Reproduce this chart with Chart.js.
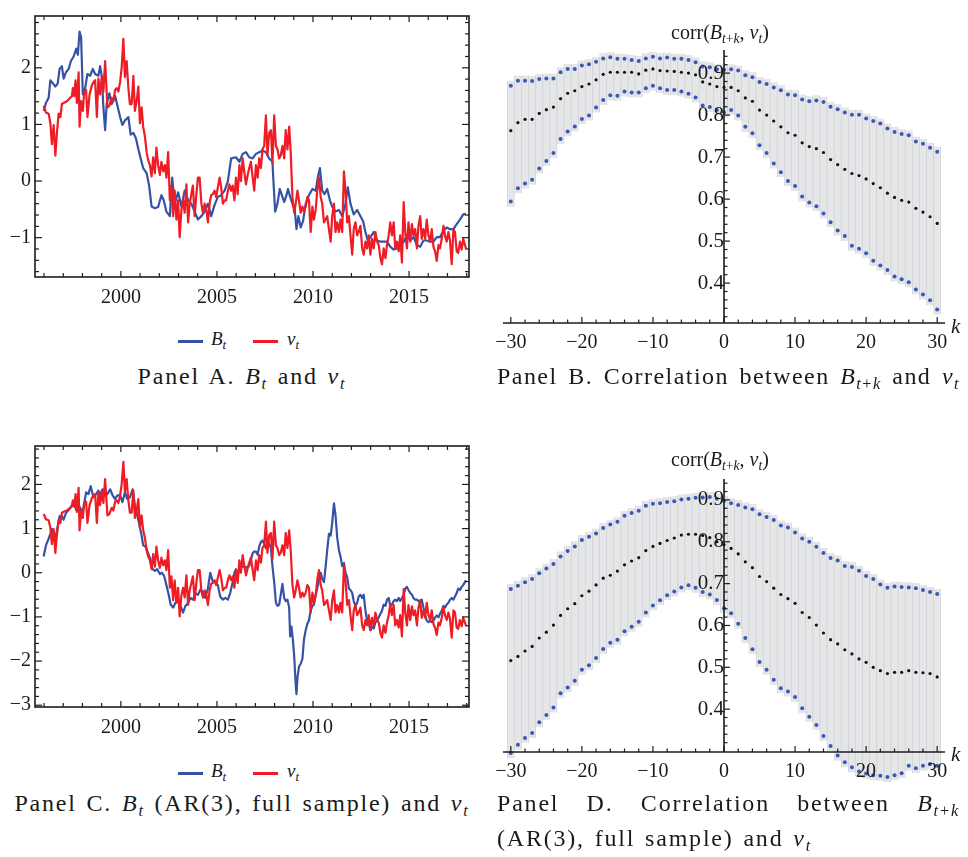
<!DOCTYPE html>
<html>
<head>
<meta charset="utf-8">
<script src="https://cdn.jsdelivr.net/npm/chart.js@4/dist/chart.umd.min.js"></script>
<style>
  body { margin: 0; width: 968px; height: 857px; background: #fff; position: relative; overflow: hidden;
         font-family: 'Liberation Serif', serif; color: #1a1a1a; }
  canvas { position: absolute; display: block; }
  .sw { position: absolute; width: 25px; height: 3px; }
  .lg { position: absolute; font-size: 19px; font-style: italic; white-space: nowrap; }
  .lg sub, .cap sub, .ax sub { font-size: 0.68em; vertical-align: -0.3em; line-height: 0; }
  .cap { position: absolute; font-size: 24px; line-height: 28px; white-space: nowrap; letter-spacing: 1.8px; word-spacing: 2px; }
  .ax { position: absolute; font-size: 20px; white-space: nowrap; }
</style>
</head>
<body>
<canvas id="panelA" width="484" height="320" style="left:0;top:0"></canvas>
<canvas id="panelB" width="484" height="370" style="left:484px;top:0"></canvas>
<canvas id="panelC" width="484" height="320" style="left:0;top:430px"></canvas>
<canvas id="panelD" width="484" height="370" style="left:484px;top:430px"></canvas>

<!-- legends -->
<div class="sw" style="left:178px;top:340px;background:#3652a5"></div>
<div class="lg" style="left:211px;top:328px">B<sub>t</sub></div>
<div class="sw" style="left:253px;top:340px;background:#ee1c25"></div>
<div class="lg" style="left:287px;top:328px">v<sub>t</sub></div>

<div class="sw" style="left:178px;top:772px;background:#3652a5"></div>
<div class="lg" style="left:211px;top:760px">B<sub>t</sub></div>
<div class="sw" style="left:253px;top:772px;background:#ee1c25"></div>
<div class="lg" style="left:287px;top:760px">v<sub>t</sub></div>

<!-- axis labels of the correlation panels -->
<div class="ax" style="left:671px;top:21px">corr(<i>B</i><sub><i>t</i>+<i>k</i></sub>, <i>v</i><sub><i>t</i></sub>)</div>
<div class="ax" style="left:951px;top:314px;font-size:21px"><i>k</i></div>
<div class="ax" style="left:671px;top:448px">corr(<i>B</i><sub><i>t</i>+<i>k</i></sub>, <i>v</i><sub><i>t</i></sub>)</div>
<div class="ax" style="left:951px;top:742px;font-size:21px"><i>k</i></div>

<!-- captions -->
<div class="cap" style="left:0;top:362px;width:484px;text-align:center">Panel A. <i>B</i><sub><i>t</i></sub> and <i>v</i><sub><i>t</i></sub></div>
<div class="cap" style="left:497px;top:362px;width:463px;letter-spacing:1.45px;text-align:justify;text-align-last:justify">Panel B. Correlation between <i>B</i><sub><i>t</i>+<i>k</i></sub> and <i>v</i><sub><i>t</i></sub></div>
<div class="cap" style="left:0;top:789px;width:484px;text-align:center">Panel C. <i>B</i><sub><i>t</i></sub> (AR(3), full sample) and <i>v</i><sub><i>t</i></sub></div>
<div class="cap" style="left:497px;top:789px;width:463px;text-align:justify;text-align-last:justify">Panel D. Correlation between <i>B</i><sub><i>t</i>+<i>k</i></sub></div>
<div class="cap" style="left:497px;top:824px">(AR(3), full sample) and <i>v</i><sub><i>t</i></sub></div>

<script>
// v_t (same series in panels A and C)
const vYears = [
  1995.98,1996.10,1996.24,1996.33,1996.41,1996.50,1996.59,1996.67,1996.76,1996.85,
  1996.93,1997.02,1997.19,1997.28,1997.36,1997.45,1997.50,1997.57,1997.64,1997.71,
  1997.80,1997.85,1997.93,1998.02,1998.09,1998.19,1998.26,1998.37,1998.49,1998.57,
  1998.66,1998.75,1998.83,1998.92,1999.01,1999.09,1999.18,1999.30,1999.40,1999.52,
  1999.61,1999.70,1999.78,1999.87,1999.96,2000.04,2000.13,2000.21,2000.30,2000.39,
  2000.47,2000.56,2000.65,2000.73,2000.82,2000.91,2000.99,2001.08,2001.16,2001.25,
  2001.34,2001.42,2001.51,2001.60,2001.68,2001.77,2001.85,2001.94,2002.03,2002.11,
  2002.20,2002.29,2002.37,2002.46,2002.55,2002.63,2002.72,2002.80,2002.89,2002.98,
  2003.06,2003.15,2003.24,2003.32,2003.41,2003.50,2003.58,2003.67,2003.75,2003.84,
  2003.93,2004.01,2004.10,2004.19,2004.27,2004.36,2004.45,2004.53,2004.62,2004.70,
  2004.79,2004.88,2004.96,2005.05,2005.14,2005.22,2005.31,2005.40,2005.48,2005.57,
  2005.65,2005.74,2005.82,2005.91,2005.99,2006.08,2006.17,2006.25,2006.34,2006.42,
  2006.51,2006.60,2006.68,2006.77,2006.86,2006.94,2007.03,2007.12,2007.20,2007.29,
  2007.37,2007.46,2007.55,2007.63,2007.72,2007.81,2007.89,2007.98,2008.07,2008.15,
  2008.24,2008.32,2008.41,2008.50,2008.58,2008.67,2008.76,2008.84,2008.93,2009.02,
  2009.10,2009.19,2009.27,2009.36,2009.45,2009.53,2009.62,2009.71,2009.79,2009.88,
  2009.97,2010.05,2010.14,2010.22,2010.31,2010.40,2010.48,2010.57,2010.66,2010.74,
  2010.83,2010.92,2011.00,2011.09,2011.17,2011.26,2011.35,2011.43,2011.52,2011.61,
  2011.69,2011.78,2011.87,2011.95,2012.04,2012.12,2012.21,2012.30,2012.38,2012.47,
  2012.56,2012.64,2012.73,2012.82,2012.90,2012.99,2013.07,2013.16,2013.25,2013.33,
  2013.42,2013.51,2013.59,2013.68,2013.77,2013.85,2013.94,2014.02,2014.11,2014.20,
  2014.28,2014.37,2014.46,2014.54,2014.63,2014.72,2014.80,2014.89,2014.97,2015.06,
  2015.15,2015.23,2015.32,2015.41,2015.49,2015.58,2015.66,2015.75,2015.84,2015.92,
  2016.01,2016.10,2016.18,2016.27,2016.36,2016.44,2016.53,2016.61,2016.70,2016.79,
  2016.87,2016.96,2017.05,2017.13,2017.22,2017.31,2017.39,2017.48,2017.56,2017.65,
  2017.74,2017.82,2017.96
];
const vValues = [
  1.33,1.21,1.19,1.02,0.65,0.99,0.45,0.85,1.19,1.13,
  1.36,1.38,1.41,1.44,1.47,1.50,1.64,1.50,1.78,1.38,
  1.92,0.96,1.41,1.24,1.58,1.61,1.13,1.53,1.69,1.75,
  1.78,1.13,1.81,1.53,1.86,1.58,2.12,1.30,1.33,1.47,
  1.41,1.61,1.64,1.58,1.75,2.00,2.51,1.84,2.12,1.64,
  1.36,1.36,1.86,1.24,1.41,1.67,1.02,1.30,0.96,0.79,
  0.51,0.37,0.28,0.08,0.42,0.14,0.59,0.28,0.11,0.34,
  0.17,0.28,0.06,0.51,-0.34,-0.08,-0.62,-0.17,-0.68,-0.34,
  -0.99,-0.51,-0.34,-0.56,-0.06,-0.73,-0.40,-0.23,-0.08,-0.62,
  -0.23,0.06,0.06,-0.40,-0.56,-0.40,-0.51,-0.73,-0.40,-0.25,
  -0.23,-0.17,-0.28,-0.11,0.06,-0.11,-0.40,-0.34,-0.34,-0.17,
  -0.06,-0.17,-0.08,-0.34,0.06,-0.23,0.28,0.00,0.40,0.17,
  -0.06,0.11,0.23,0.34,0.06,-0.17,0.28,0.06,0.40,0.23,
  0.56,0.62,1.16,0.45,0.85,0.90,0.31,1.16,0.62,0.56,
  0.40,0.45,0.62,0.40,0.90,0.56,0.96,0.51,-0.28,-0.56,
  -0.40,-0.17,-0.34,-0.56,-0.45,-0.54,-0.45,-0.28,-0.34,-0.90,
  -0.45,-0.68,-0.51,-0.17,0.06,-0.28,-0.40,-0.73,-0.68,-0.62,
  -0.85,-1.07,-0.62,-0.40,-0.90,-0.73,-0.90,-0.68,-0.90,0.17,
  -0.17,-0.73,-0.62,-0.96,-1.30,-0.85,-0.73,-0.96,-0.90,-0.79,
  -1.19,-1.30,-1.07,-1.19,-0.96,-1.30,-1.02,-1.19,-0.90,-1.07,
  -1.13,-1.36,-1.47,-1.19,-1.36,-1.13,-0.96,-0.73,-0.96,-0.73,
  -1.19,-1.07,-1.24,-0.96,-1.44,-0.37,-0.90,-1.19,-0.73,-1.07,
  -0.76,-0.96,-0.85,-1.19,-0.79,-0.62,-1.02,-0.85,-1.02,-0.68,
  -0.96,-1.07,-0.85,-1.16,-1.25,-1.41,-1.13,-1.19,-1.02,-0.79,
  -0.96,-1.07,-0.90,-1.05,-1.47,-0.85,-0.90,-1.24,-1.27,-1.07,
  -1.21,-1.02,-1.19
];

// B_t, panel A
const bYearsA = [
  1995.98,1996.10,1996.24,1996.33,1996.47,1996.59,1996.71,1996.81,1996.93,1997.02,
  1997.14,1997.28,1997.40,1997.54,1997.68,1997.76,1997.85,1997.93,1998.02,1998.14,
  1998.26,1998.40,1998.54,1998.66,1998.83,1998.92,1999.01,1999.09,1999.18,1999.26,
  1999.40,1999.52,1999.70,1999.82,1999.96,2000.08,2000.21,2000.39,2000.51,2000.65,
  2000.78,2000.91,2001.03,2001.16,2001.34,2001.47,2001.60,2001.77,2001.94,2002.11,
  2002.23,2002.37,2002.55,2002.67,2002.80,2002.98,2003.15,2003.32,2003.50,2003.67,
  2003.84,2004.01,2004.19,2004.36,2004.53,2004.70,2004.88,2005.05,2005.22,2005.40,
  2005.57,2005.74,2005.99,2006.17,2006.34,2006.51,2006.68,2006.86,2007.03,2007.20,
  2007.37,2007.55,2007.72,2007.89,2007.94,2008.03,2008.15,2008.27,2008.41,2008.50,
  2008.62,2008.70,2008.81,2008.93,2009.05,2009.14,2009.24,2009.36,2009.48,2009.62,
  2009.79,2009.97,2010.14,2010.26,2010.36,2010.48,2010.60,2010.74,2010.88,2011.00,
  2011.17,2011.35,2011.52,2011.69,2011.81,2011.95,2012.12,2012.30,2012.47,2012.61,
  2012.73,2012.85,2012.99,2013.16,2013.33,2013.51,2013.68,2013.85,2014.02,2014.20,
  2014.37,2014.54,2014.72,2014.89,2015.06,2015.23,2015.41,2015.58,2015.75,2015.92,
  2016.10,2016.27,2016.44,2016.61,2016.79,2016.96,2017.13,2017.31,2017.48,2017.65,
  2017.82,2017.96
];
const bValuesA = [
  1.24,1.38,1.47,1.78,1.72,1.67,1.72,1.98,2.03,1.81,
  1.92,1.98,2.12,2.20,2.34,2.23,2.64,2.54,1.53,1.64,
  1.89,1.86,1.98,1.89,1.86,2.03,1.84,1.30,0.90,1.36,
  1.55,1.36,1.50,1.33,1.13,0.99,1.07,1.13,0.82,0.85,
  0.76,0.56,0.40,0.23,0.14,-0.08,-0.45,-0.48,-0.46,-0.25,
  -0.34,-0.54,-0.62,0.06,-0.40,-0.20,-0.45,-0.17,-0.34,-0.40,
  -0.54,-0.68,-0.62,-0.54,-0.40,-0.62,-0.42,-0.28,-0.25,-0.17,
  0.00,0.40,0.42,0.34,0.48,0.51,0.42,0.40,0.48,0.51,
  0.54,0.51,0.40,0.34,0.00,-0.54,-0.40,-0.14,-0.28,-0.37,
  -0.25,-0.14,-0.28,-0.40,-0.51,-0.85,-0.62,-0.82,-0.71,-0.40,
  -0.25,-0.14,-0.17,0.08,0.23,-0.17,-0.23,-0.14,-0.34,-0.45,
  -0.54,-0.51,-0.62,-0.40,-0.11,-0.40,-0.59,-0.51,-0.62,-0.71,
  -0.90,-1.05,-0.99,-0.90,-1.05,-1.07,-1.07,-1.07,-1.16,-1.21,
  -1.19,-1.16,-1.07,-0.96,-1.05,-0.99,-1.13,-1.16,-1.05,-1.05,
  -1.07,-1.07,-0.99,-0.99,-0.88,-0.82,-0.85,-0.85,-0.76,-0.68,
  -0.59,-0.58
];

// B_t (AR(3), full sample), panel C
const bYearsC = [
  1995.98,1996.10,1996.24,1996.33,1996.41,1996.59,1996.67,1996.81,1996.93,1997.02,
  1997.14,1997.28,1997.40,1997.54,1997.68,1997.80,1997.93,1998.05,1998.19,1998.31,
  1998.43,1998.57,1998.71,1998.83,1998.92,1999.04,1999.18,1999.30,1999.44,1999.57,
  1999.70,1999.82,1999.96,2000.08,2000.21,2000.33,2000.47,2000.61,2000.73,2000.85,
  2000.96,2001.08,2001.16,2001.29,2001.42,2001.54,2001.65,2001.77,2001.89,2002.03,
  2002.14,2002.25,2002.37,2002.49,2002.59,2002.72,2002.84,2002.98,2003.10,2003.24,
  2003.36,2003.50,2003.62,2003.75,2003.88,2004.01,2004.13,2004.27,2004.39,2004.53,
  2004.65,2004.79,2004.91,2005.05,2005.17,2005.31,2005.43,2005.57,2005.69,2005.82,
  2005.91,2005.99,2006.08,2006.17,2006.25,2006.34,2006.51,2006.68,2006.77,2006.86,
  2006.94,2007.03,2007.12,2007.20,2007.29,2007.37,2007.46,2007.55,2007.63,2007.72,
  2007.81,2007.89,2007.98,2008.07,2008.15,2008.24,2008.32,2008.41,2008.50,2008.58,
  2008.67,2008.76,2008.81,2008.88,2008.95,2009.02,2009.10,2009.14,2009.19,2009.27,
  2009.36,2009.45,2009.53,2009.62,2009.71,2009.79,2009.88,2009.97,2010.05,2010.14,
  2010.22,2010.31,2010.40,2010.48,2010.57,2010.66,2010.74,2010.83,2010.92,2011.00,
  2011.09,2011.17,2011.26,2011.35,2011.43,2011.52,2011.61,2011.69,2011.78,2011.87,
  2011.95,2012.04,2012.12,2012.21,2012.30,2012.38,2012.47,2012.56,2012.64,2012.73,
  2012.82,2012.90,2012.99,2013.07,2013.16,2013.25,2013.33,2013.42,2013.51,2013.59,
  2013.68,2013.77,2013.85,2013.94,2014.02,2014.11,2014.20,2014.28,2014.37,2014.46,
  2014.54,2014.63,2014.72,2014.80,2014.89,2014.97,2015.06,2015.15,2015.23,2015.32,
  2015.41,2015.49,2015.58,2015.66,2015.75,2015.84,2015.92,2016.01,2016.10,2016.18,
  2016.27,2016.36,2016.44,2016.53,2016.61,2016.70,2016.79,2016.87,2016.96,2017.05,
  2017.13,2017.22,2017.31,2017.39,2017.48,2017.56,2017.65,2017.74,2017.82,2017.96
];
const bValuesC = [
  0.37,0.62,0.77,0.88,0.99,0.80,0.95,1.28,1.28,1.20,
  1.35,1.42,1.49,1.60,1.42,1.53,1.42,1.46,1.82,1.78,
  1.96,1.71,1.78,1.86,1.75,1.89,1.82,1.78,1.89,1.75,
  1.67,1.75,1.75,1.60,1.82,1.67,1.71,1.89,1.53,1.31,
  1.09,0.84,0.62,0.59,0.44,0.30,0.08,0.04,0.08,-0.03,
  0.00,-0.07,-0.28,-0.50,-0.72,-0.79,-0.68,-0.64,-0.75,-0.90,
  -0.75,-0.68,-0.57,-0.61,-0.46,-0.50,-0.39,-0.43,-0.57,-0.36,
  0.00,-0.21,-0.21,-0.28,-0.54,-0.61,-0.57,-0.61,-0.46,-0.21,
  0.00,0.08,-0.03,0.08,0.12,0.15,0.12,0.15,0.30,0.44,
  0.48,0.48,0.41,0.59,0.70,0.73,0.66,0.55,0.70,0.66,
  0.55,0.15,-0.21,-0.68,-0.75,-0.72,-0.50,-0.25,-0.57,-0.64,
  -0.61,-0.79,-1.44,-1.22,-1.51,-1.88,-2.53,-2.75,-2.38,-2.13,
  -2.06,-1.95,-1.51,-1.30,-1.15,-1.08,-0.86,-0.75,-0.72,-0.50,
  -0.36,-0.14,0.00,-0.14,-0.21,0.15,0.51,0.88,0.84,1.13,
  1.57,1.31,0.80,0.51,0.37,0.15,0.22,0.00,-0.10,-0.36,
  -0.39,-0.46,-0.64,-0.75,-0.68,-0.54,-0.50,-0.57,-0.50,-0.86,
  -1.08,-1.15,-1.30,-1.22,-1.26,-1.12,-1.08,-1.01,-0.93,-0.86,
  -0.72,-0.75,-0.61,-0.57,-0.75,-0.72,-0.64,-0.61,-0.64,-0.57,
  -0.64,-0.57,-0.50,-0.36,-0.32,-0.39,-0.46,-0.50,-0.57,-0.61,
  -0.61,-0.64,-0.68,-0.61,-0.79,-0.97,-1.08,-1.12,-1.08,-1.12,
  -1.08,-1.01,-0.97,-1.01,-0.93,-0.86,-0.75,-0.79,-0.72,-0.68,
  -0.61,-0.57,-0.61,-0.54,-0.46,-0.36,-0.39,-0.32,-0.28,-0.17
];

// lags k = -30 ... 30
const lags = Array.from({ length: 61 }, (_, i) => i - 30);

// Panel B: corr(B_{t+k}, v_t) and its band
const corrUpperB = [
  0.870,0.882,0.882,0.881,0.886,0.887,0.887,0.902,0.910,0.910,
  0.918,0.921,0.927,0.935,0.938,0.934,0.934,0.931,0.929,0.935,
  0.939,0.935,0.937,0.934,0.934,0.931,0.926,0.916,0.914,0.909,
  0.908,
  0.909,0.906,0.895,0.890,0.879,0.874,0.866,0.859,0.849,0.847,
  0.837,0.833,0.835,0.831,0.820,0.814,0.806,0.801,0.801,0.792,
  0.786,0.780,0.768,0.760,0.755,0.752,0.737,0.732,0.722,0.713
];
const corrMidB = [
  0.763,0.782,0.790,0.790,0.804,0.813,0.819,0.839,0.852,0.858,
  0.868,0.874,0.884,0.897,0.902,0.902,0.902,0.902,0.898,0.907,
  0.910,0.906,0.905,0.904,0.902,0.900,0.896,0.879,0.874,0.868,
  0.866,
  0.866,0.858,0.841,0.833,0.812,0.800,0.786,0.772,0.758,0.752,
  0.734,0.725,0.720,0.711,0.694,0.682,0.671,0.661,0.656,0.648,
  0.637,0.627,0.614,0.604,0.597,0.593,0.578,0.569,0.558,0.542
];
const corrLowerB = [
  0.594,0.626,0.637,0.646,0.673,0.691,0.710,0.743,0.761,0.773,
  0.791,0.799,0.818,0.836,0.847,0.846,0.856,0.854,0.854,0.864,
  0.870,0.864,0.860,0.860,0.856,0.851,0.842,0.823,0.819,0.812,
  0.806,
  0.812,0.799,0.772,0.757,0.728,0.710,0.685,0.664,0.643,0.631,
  0.606,0.592,0.583,0.566,0.545,0.525,0.512,0.489,0.482,0.471,
  0.453,0.442,0.431,0.416,0.409,0.402,0.385,0.373,0.359,0.337
];

// Panel D: same with B_t from AR(3), full sample
const corrUpperD = [
  0.687,0.695,0.703,0.711,0.725,0.736,0.747,0.765,0.778,0.789,
  0.804,0.812,0.820,0.833,0.841,0.848,0.862,0.869,0.874,0.886,
  0.891,0.892,0.895,0.897,0.901,0.903,0.905,0.906,0.907,0.903,
  0.898,
  0.892,0.888,0.882,0.878,0.866,0.859,0.852,0.839,0.834,0.822,
  0.808,0.800,0.788,0.773,0.761,0.755,0.742,0.740,0.731,0.718,
  0.711,0.698,0.690,0.693,0.692,0.691,0.689,0.685,0.680,0.675
];
const corrMidD = [
  0.516,0.526,0.539,0.550,0.570,0.584,0.601,0.624,0.640,0.652,
  0.671,0.682,0.697,0.713,0.720,0.730,0.745,0.754,0.762,0.779,
  0.789,0.796,0.803,0.809,0.816,0.818,0.818,0.815,0.810,0.800,
  0.793,
  0.784,0.771,0.752,0.738,0.717,0.705,0.689,0.674,0.664,0.653,
  0.631,0.619,0.601,0.582,0.566,0.556,0.542,0.532,0.520,0.512,
  0.500,0.492,0.485,0.488,0.488,0.492,0.488,0.487,0.485,0.477
];
const corrLowerD = [
  0.295,0.315,0.331,0.343,0.369,0.386,0.404,0.438,0.452,0.468,
  0.494,0.505,0.522,0.544,0.559,0.566,0.586,0.597,0.609,0.631,
  0.648,0.660,0.672,0.681,0.691,0.696,0.690,0.680,0.674,0.661,
  0.641,
  0.629,0.604,0.570,0.543,0.513,0.494,0.470,0.450,0.442,0.429,
  0.402,0.382,0.362,0.336,0.312,0.289,0.273,0.261,0.251,0.246,
  0.242,0.241,0.238,0.242,0.247,0.265,0.259,0.265,0.269,0.265
];

const BLUE = '#3652a5';
const RED = '#ee1c25';
const DOT_BLUE = '#3a58b6';
const FAMILY = "'Liberation Serif', serif";
const FONT = { family: FAMILY, size: 20 };

// tick positions (every year / every 0.2, every 2 lags / every 0.02)
function steps(from, to, step) {
  const out = [];
  for (let v = from; v <= to + 1e-9; v += step) out.push(Math.round(v * 1000) / 1000);
  return out;
}
const yearTicks = steps(1996, 2018, 1);
const lagTicks = steps(-30, 30, 2);

const minus = v => (v < 0 ? '\u2212' : '') + Math.abs(v);
const isMajor = (v, step) => Math.abs(v / step - Math.round(v / step)) < 1e-6;

// Mathematica-like tick marks: frame ticks pointing inward, or axes crossing at k = 0
const tickMarks = {
  id: 'tickMarks',
  afterDraw(chart, args, o) {
    const { ctx, chartArea: a, scales: { x, y } } = chart;
    const seg = (x1, y1, x2, y2) => { ctx.beginPath(); ctx.moveTo(x1, y1); ctx.lineTo(x2, y2); ctx.stroke(); };
    ctx.save();
    ctx.strokeStyle = '#1c1c1c';
    if (o.frame) {
      ctx.lineWidth = 1.6;
      ctx.strokeRect(a.left, a.top, a.right - a.left, a.bottom - a.top);
      ctx.lineWidth = 1.2;
      x.ticks.forEach(t => {
        const p = x.getPixelForValue(t.value);
        const len = isMajor(t.value, o.xMajor) ? 6 : 4;
        seg(p, a.bottom, p, a.bottom - len);
        seg(p, a.top, p, a.top + len);
      });
      y.ticks.forEach(t => {
        const p = y.getPixelForValue(t.value);
        const len = isMajor(t.value, o.yMajor) ? 7 : 4;
        seg(a.left, p, a.left + len, p);
        seg(a.right, p, a.right - len, p);
      });
    } else {
      const x0 = x.getPixelForValue(0);
      const y0 = y.getPixelForValue(o.xAt);
      ctx.lineWidth = 1.6;
      seg(x0, a.top, x0, y0);
      seg(a.left, y0, a.right, y0);
      ctx.lineWidth = 1.2;
      x.ticks.forEach(t => {
        const p = x.getPixelForValue(t.value);
        seg(p, y0, p, y0 - (isMajor(t.value, o.xMajor) ? 6 : 3.5));
      });
      y.ticks.forEach(t => {
        const p = y.getPixelForValue(t.value);
        seg(x0, p, x0 + (isMajor(t.value, o.yMajor) ? 6 : 3.5), p);
      });
    }
    ctx.restore();
  }
};

function seriesChart(id, bYears, bValues, yMin, yMax) {
  const yTicks = steps(Math.ceil(yMin * 5) / 5, yMax, 0.2);
  new Chart(document.getElementById(id), {
    type: 'line',
    data: {
      datasets: [
        { label: 'v', data: vYears.map((x, i) => ({ x, y: vValues[i] })), borderColor: RED, borderWidth: 2.2, order: 0 },
        { label: 'B', data: bYears.map((x, i) => ({ x, y: bValues[i] })), borderColor: BLUE, borderWidth: 2.2, order: 1 }
      ]
    },
    options: {
      responsive: false,
      animation: false,
      layout: { padding: { top: 5, right: 15, left: 0, bottom: 0 } },
      elements: { point: { radius: 0 }, line: { tension: 0, borderJoinStyle: 'round' } },
      plugins: { legend: { display: false }, tooltip: { enabled: false }, tickMarks: { frame: true, xMajor: 5, yMajor: 1 } },
      scales: {
        x: {
          type: 'linear', min: 1995.53, max: 2018.12,
          grid: { display: false, drawTicks: false }, border: { display: false },
          afterBuildTicks: s => { s.ticks = yearTicks.map(value => ({ value })); },
          afterFit: s => { s.height = 43; },
          ticks: { autoSkip: false, maxRotation: 0, padding: 9, color: '#1a1a1a', font: FONT,
                   callback: v => (isMajor(v, 5) ? String(v) : '') }
        },
        y: {
          min: yMin, max: yMax,
          grid: { display: false, drawTicks: false }, border: { display: false },
          afterBuildTicks: s => { s.ticks = yTicks.map(value => ({ value })); },
          afterFit: s => { s.width = 35; },
          ticks: { autoSkip: false, padding: 4, color: '#1a1a1a', font: FONT,
                   callback: v => (isMajor(v, 1) ? minus(Math.round(v)) : '') }
        }
      }
    },
    plugins: [tickMarks]
  });
}

function corrChart(id, lower, mid, upper, yMin, yMax, xAt, padTop, padBottom) {
  const pad = 0.012;
  const yTicks = steps(0.32, 0.94, 0.02);
  const dots = (vals, color, r) => ({
    type: 'line', data: lags.map((x, i) => ({ x, y: vals[i] })), showLine: false,
    pointRadius: r, pointBackgroundColor: color, pointBorderWidth: 0, order: 0, clip: false
  });
  new Chart(document.getElementById(id), {
    type: 'bar',
    data: {
      datasets: [
        dots(mid, '#111', 1.6),
        dots(upper, DOT_BLUE, 2),
        dots(lower, DOT_BLUE, 2),
        {
          type: 'bar', data: lags.map((x, i) => ({ x, y: [lower[i] - pad, upper[i] + pad] })),
          backgroundColor: '#e5e6e7', borderColor: '#cfd0d4',
          borderWidth: { left: 0.7, right: 0.7, top: 0, bottom: 0 }, borderSkipped: false,
          barPercentage: 1, categoryPercentage: 1, order: 3, clip: false
        }
      ]
    },
    options: {
      responsive: false,
      animation: false,
      layout: { padding: { top: padTop, right: 23, left: 19, bottom: padBottom } },
      plugins: { legend: { display: false }, tooltip: { enabled: false }, tickMarks: { frame: false, xMajor: 10, yMajor: 0.1, xAt } },
      scales: {
        x: {
          type: 'linear', position: { y: xAt }, min: -31.1, max: 31.1, offset: false,
          grid: { display: false, drawTicks: false }, border: { display: false },
          afterBuildTicks: s => { s.ticks = lagTicks.map(value => ({ value })); },
          ticks: { autoSkip: false, maxRotation: 0, padding: 8, z: 1, color: '#1a1a1a', font: FONT,
                   callback: v => (isMajor(v, 10) ? minus(v) : '') }
        },
        y: {
          type: 'linear', position: { x: 0 }, min: yMin, max: yMax,
          grid: { display: false, drawTicks: false }, border: { display: false },
          afterBuildTicks: s => { s.ticks = yTicks.map(value => ({ value })); },
          ticks: { autoSkip: false, padding: 5, z: 1, color: '#1a1a1a', font: { family: FAMILY, size: 21 },
                   callback: v => (isMajor(v, 0.1) ? v.toFixed(1) : '') }
        }
      }
    },
    plugins: [tickMarks]
  });
}

seriesChart('panelA', bYearsA, bValuesA, -1.695, 2.915);
seriesChart('panelC', bYearsC, bValuesC, -3.04, 2.87);
corrChart('panelB', corrLowerB, corrMidB, corrUpperB, 0.305, 0.955, 0.305, 50, 47);
corrChart('panelD', corrLowerD, corrMidD, corrUpperD, 0.225, 0.95, 0.2976, 49, 16.5);
</script>
</body>
</html>
